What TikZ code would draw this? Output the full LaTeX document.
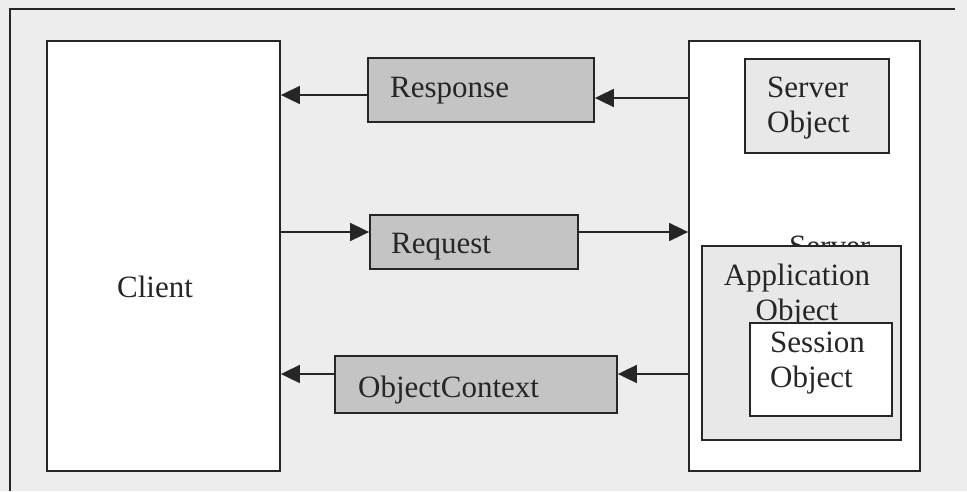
\documentclass[tikz,border=0pt]{standalone}
\usepackage{fontspec}
\setmainfont{Liberation Serif}
\usetikzlibrary{arrows.meta}
\definecolor{bg}{HTML}{EDEDED}
\definecolor{ink}{HTML}{262626}
\definecolor{boxgray}{HTML}{C4C4C4}
\definecolor{lightfill}{HTML}{E8E8E8}
\begin{document}
\begin{tikzpicture}[x=1pt,y=1pt,
  every node/.style={font=\fontsize{31}{35}\selectfont, text=ink, inner sep=0pt},
  frame/.style={draw=ink, line width=1.8pt},
  wbox/.style={frame, fill=white},
  gbox/.style={frame, fill=boxgray},
  lbox/.style={frame, fill=lightfill},
  lbl/.style={anchor=base west},
  arr/.style={draw=ink, line width=1.8pt, -{Triangle[length=19pt,width=18pt]}},
]
\useasboundingbox (0,0) rectangle (967,-491);
\fill[bg] (0,0) rectangle (967,-491);
\draw[frame] (10,-491) -- (10,-9) -- (955,-9);

% client
\node[wbox, minimum width=233pt, minimum height=430pt] (client) at (163.5,-256) {};
\node[lbl] (clientlbl) at (117,-297) {Client};

% server
\node[wbox, minimum width=231pt, minimum height=430pt] (server) at (804.5,-256) {};
\node[lbox, minimum width=144pt, minimum height=94pt] (serverobj) at (817,-106) {};
\node[anchor=north west, align=left] (serverobjlbl) at (767,-77) {Server\\Object};
\node[lbl] (servertxt) at (789,-256) {Server};

% application / session
\node[lbox, minimum width=199pt, minimum height=194pt] (app) at (801.5,-343) {};
\node[anchor=north, align=center] (applbl) at (797,-264) {Application\\Object};
\node[wbox, minimum width=142pt, minimum height=93pt] (session) at (821,-369.5) {};
\node[anchor=north west, align=left] (sessionlbl) at (770,-332) {Session\\Object};

% messages
\node[gbox, minimum width=226pt, minimum height=64pt] (response) at (481,-90) {};
\node[lbl] (responselbl) at (390,-97) {Response};
\node[gbox, minimum width=208pt, minimum height=54pt] (request) at (474,-242) {};
\node[lbl] (requestlbl) at (391,-253) {Request};
\node[gbox, minimum width=282pt, minimum height=57pt] (objctx) at (476,-384.5) {};
\node[lbl] (objctxlbl) at (358,-397) {ObjectContext};

% connectors
\draw[arr] (server.west |- 0,-98) -- (response.east |- 0,-98);
\draw[arr] (response.west |- 0,-95) -- (client.east |- 0,-95);
\draw[arr] (client.east |- 0,-232) -- (request.west |- 0,-232);
\draw[arr] (request.east |- 0,-232) -- (server.west |- 0,-232);
\draw[arr] (server.west |- 0,-374) -- (objctx.east |- 0,-374);
\draw[arr] (objctx.west |- 0,-374) -- (client.east |- 0,-374);
\end{tikzpicture}
\end{document}
